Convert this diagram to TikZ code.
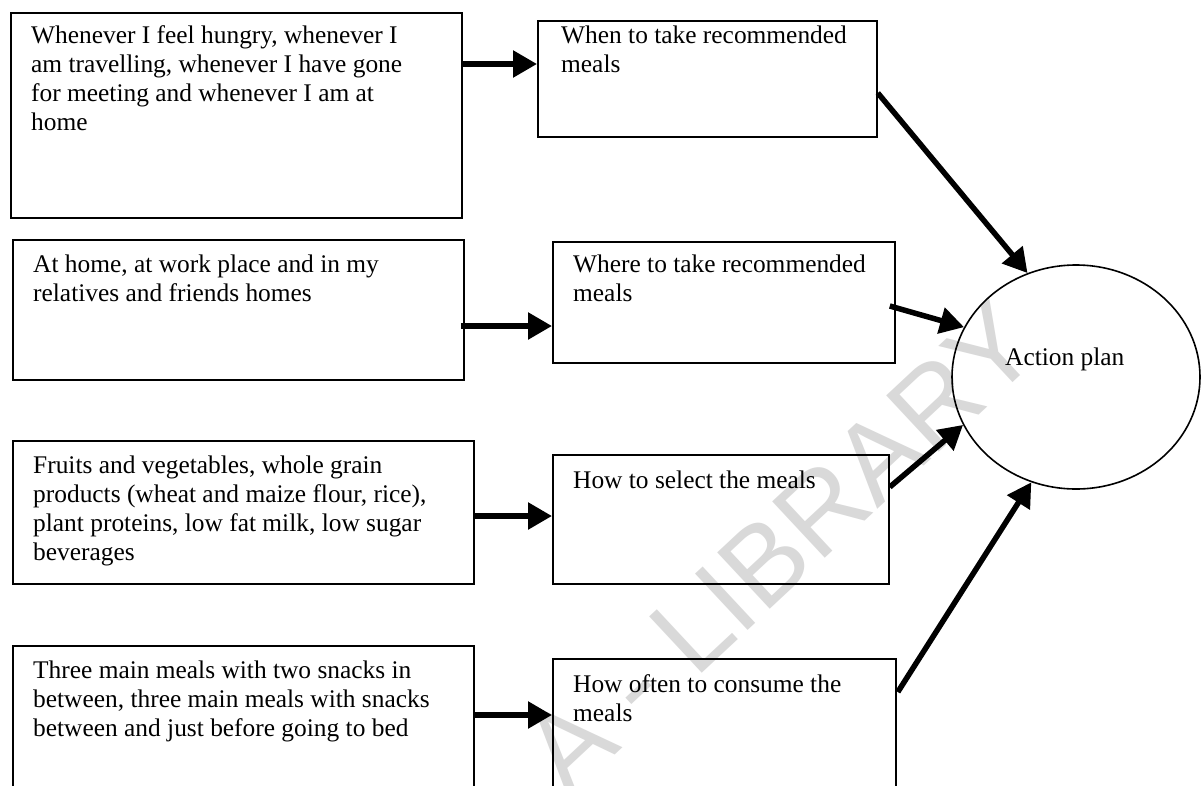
\documentclass[tikz,border=0pt]{standalone}
\usepackage{fontspec}
\setmainfont{Liberation Serif}
\newfontfamily\wmfont{Liberation Sans}
\usetikzlibrary{calc,shapes.geometric,arrows.meta}

\newcommand\topstrut{\rule{0pt}{20pt}}

\begin{document}
\begin{tikzpicture}[x=1pt,y=-1pt,
  box/.style={draw, line width=1.8pt, rectangle, inner sep=0pt, anchor=north west},
  txt/.style={anchor=north west, inner sep=0pt, align=left, font=\fontsize{25.4}{29}\selectfont},
  link/.style={line width=5.5pt, -{Triangle[length=24pt,width=26pt]}},
]
\useasboundingbox[fill=white] (0,0) rectangle (1202,785);

% faint library stamp behind everything
\node[rotate=43, text=black!15, inner sep=0pt,
      font=\wmfont\fontsize{112}{112}\selectfont] (stamp) at (780,548) {A - LIBRARY};

% left column: details
\node[box, minimum width=451pt, minimum height=205pt] (b1) at (10,12) {};
\node[box, minimum width=451pt, minimum height=140pt] (b3) at (12,239) {};
\node[box, minimum width=461pt, minimum height=143pt] (b5) at (12,440) {};
\node[box, minimum width=461pt, minimum height=160pt] (b7) at (12,645) {};

% middle column: questions
\node[box, minimum width=339pt, minimum height=116pt] (b2) at (537,20) {};
\node[box, minimum width=342pt, minimum height=121pt] (b4) at (552,241) {};
\node[box, minimum width=336pt, minimum height=129pt] (b6) at (552,454) {};
\node[box, minimum width=343pt, minimum height=150pt] (b8) at (552,658) {};

% goal
\node[draw, ellipse, line width=1.6pt, inner sep=0pt,
      minimum width=248pt, minimum height=224pt] (plan) at (1076,377) {};

% texts
\node[txt] (t1) at (31,23) {\topstrut Whenever I feel hungry, whenever I\\am travelling, whenever I have gone\\for meeting and whenever I am at\\home};
\node[txt] (t3) at (33,252) {\topstrut At home, at work place and in my\\relatives and friends homes};
\node[txt] (t5) at (33,453) {\topstrut Fruits and vegetables, whole grain\\products (wheat and maize flour, rice),\\plant proteins, low fat milk, low sugar\\beverages};
\node[txt] (t7) at (33,658) {\topstrut Three main meals with two snacks in\\between, three main meals with snacks\\between and just before going to bed};

\node[txt] (t2) at (561,23) {\topstrut When to take recommended\\meals};
\node[txt] (t4) at (573,252) {\topstrut Where to take recommended\\meals};
\node[txt] (t6) at (573,468) {\topstrut How to select the meals};
\node[txt] (t8) at (573,672) {\topstrut How often to consume the\\meals};

\node[txt] (tp) at (1005,345) {\topstrut Action plan};

% details -> questions
\draw[link] ($(b1.north east)+(0,52)$) -- ($(b2.north west)+(0,44)$);
\draw[link] ($(b3.north east)+(-4,87)$) -- ($(b4.north west)+(0,85)$);
\draw[link] ($(b5.north east)+(0,76)$) -- ($(b6.north west)+(0,62)$);
\draw[link] ($(b7.north east)+(0,70)$) -- ($(b8.north west)+(0,57)$);

% questions -> action plan
\draw[link] ($(b2.north east)+(0,73)$) -- (plan.115);
\draw[link] ($(b4.north east)+(-6,65)$) -- (plan.156);
\draw[link] ($(b6.north east)+(0,33)$) -- (plan.203);
\draw[link] ($(b8.north east)+(1,34)$) -- (plan.247);
\end{tikzpicture}
\end{document}
